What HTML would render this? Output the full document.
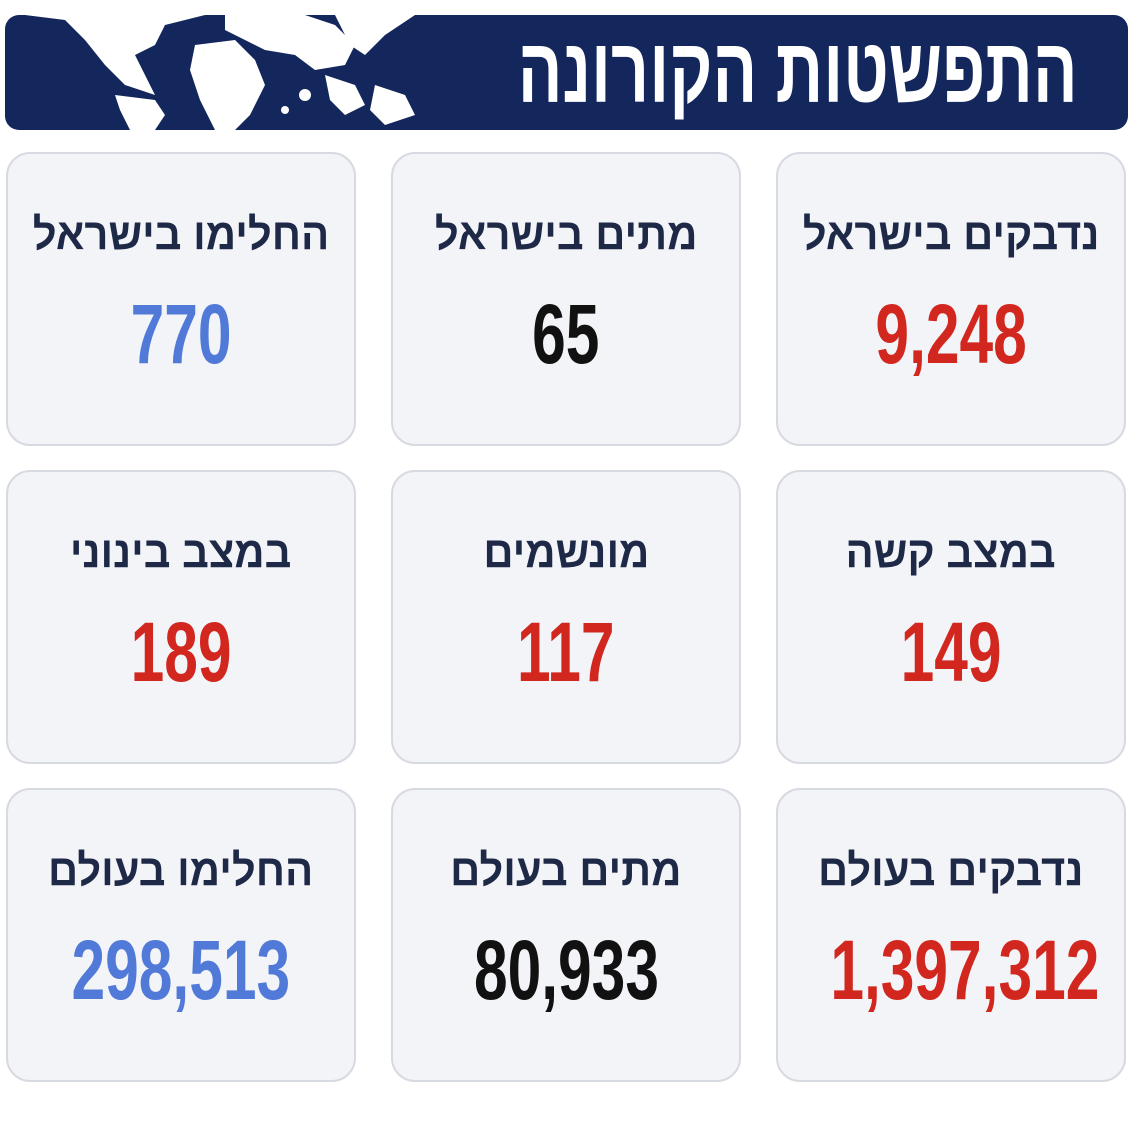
<!DOCTYPE html>
<html><head><meta charset="utf-8"><style>
body{margin:0;width:1147px;height:1122px;background:#fff;position:relative;overflow:hidden;font-family:"Liberation Sans","DejaVu Sans",sans-serif;}
.hdr{position:absolute;left:5px;top:15px;width:1123px;height:115px;background:#14275c;border-radius:14px;overflow:hidden;}
.title{position:absolute;right:50px;top:6px;color:#fff;font-weight:bold;font-size:92px;line-height:100px;transform:scaleX(0.72);transform-origin:right center;white-space:nowrap;direction:rtl;}
.card{position:absolute;width:350px;height:294px;background:#f3f4f8;border:2px solid #d8dae2;border-radius:24px;box-sizing:border-box;}
.lab{position:absolute;left:0;right:0;top:56px;text-align:center;font-weight:bold;font-size:44px;color:#1d2947;direction:rtl;white-space:nowrap;}
.lab span,.num span{display:inline-block;transform:scaleX(0.95);}
.num{position:absolute;left:0;right:0;top:130px;text-align:center;font-weight:bold;font-size:84px;line-height:100px;white-space:nowrap;}
.num span{transform:scaleX(0.72);}
.r{color:#d2271f}.b{color:#5079d8}.k{color:#111}
</style></head><body>
<div class="hdr">
<svg width="420" height="115" style="position:absolute;left:0;top:0">
<g fill="#fff">
<path d="M20 0 L60 5 L80 25 L100 50 L120 70 L150 80 L140 60 L130 40 L150 30 L160 10 L200 0 Z"/>
<path d="M110 80 L150 85 L160 100 L150 115 L125 115 L115 95 Z"/>
<path d="M190 30 L230 25 L250 45 L260 70 L245 100 L230 115 L210 115 L195 85 L185 55 Z"/>
<path d="M220 0 L300 0 L330 10 L350 30 L340 50 L310 55 L290 40 L260 35 L240 25 L220 15 Z"/>
<path d="M330 0 L410 0 L380 20 L360 40 L345 30 Z"/>
<path d="M320 60 L350 70 L360 90 L340 100 L325 85 Z"/>
<path d="M370 70 L400 80 L410 100 L380 110 L365 95 Z"/>
<circle cx="300" cy="80" r="6"/><circle cx="280" cy="95" r="4"/>
</g></svg>
<div class="title">התפשטות הקורונה</div>
</div>

<div class="card" style="left:776px;top:152px"><div class="lab"><span>נדבקים בישראל</span></div><div class="num r"><span>9,248</span></div></div>
<div class="card" style="left:391px;top:152px"><div class="lab"><span>מתים בישראל</span></div><div class="num k"><span>65</span></div></div>
<div class="card" style="left:6px;top:152px"><div class="lab"><span>החלימו בישראל</span></div><div class="num b"><span>770</span></div></div>

<div class="card" style="left:776px;top:470px"><div class="lab"><span>במצב קשה</span></div><div class="num r"><span>149</span></div></div>
<div class="card" style="left:391px;top:470px"><div class="lab"><span>מונשמים</span></div><div class="num r"><span>117</span></div></div>
<div class="card" style="left:6px;top:470px"><div class="lab"><span>במצב בינוני</span></div><div class="num r"><span>189</span></div></div>

<div class="card" style="left:776px;top:788px"><div class="lab"><span>נדבקים בעולם</span></div><div class="num r"><span>1,397,312</span></div></div>
<div class="card" style="left:391px;top:788px"><div class="lab"><span>מתים בעולם</span></div><div class="num k"><span>80,933</span></div></div>
<div class="card" style="left:6px;top:788px"><div class="lab"><span>החלימו בעולם</span></div><div class="num b"><span>298,513</span></div></div>
</body></html>
